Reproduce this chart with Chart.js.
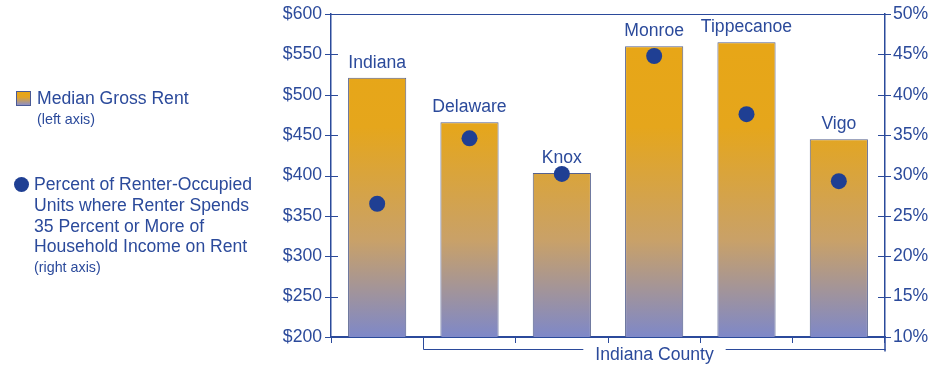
<!DOCTYPE html>
<html>
<head>
<meta charset="utf-8">
<script src="https://cdn.jsdelivr.net/npm/chart.js@4"></script>
<style>
  html, body { margin: 0; padding: 0; background: #fff; }
  #wrap { position: relative; width: 948px; height: 368px; font-family: "Liberation Sans", Arial, Helvetica, sans-serif; color: #2b4a9b; }
  canvas { position: absolute; left: 0; top: 0; }
  .leg { position: absolute; font-size: 17.6px; line-height: 20.8px; white-space: nowrap; }
  .sub { font-size: 14.3px; line-height: 20px; display: block; }
  .sq { position: absolute; left: 16px; top: 91px; width: 13px; height: 13px; border: 1px solid #4a5a95;
        background: linear-gradient(#e8a615 0%, #e3a424 40%, #8d8fc6 100%); }
  .dot { position: absolute; left: 14px; top: 177px; width: 15px; height: 15px; border-radius: 50%; background: #1f3f93; }
</style>
</head>
<body>
<div id="wrap">
  <canvas id="c" width="948" height="368"></canvas>
  <div class="sq"></div>
  <div class="leg" style="left:37px; top:88px;">Median Gross Rent<span class="sub">(left axis)</span></div>
  <div class="dot"></div>
  <div class="leg" style="left:34px; top:174px;">Percent of Renter-Occupied<br>Units where Renter Spends<br>35 Percent or More of<br>Household Income on Rent<span class="sub">(right axis)</span></div>
</div>
<script>
const categories = ["Indiana", "Delaware", "Knox", "Monroe", "Tippecanoe", "Vigo"];
const medianRent = [521, 466, 403, 560, 565, 445];
const pctBurdened = [26.5, 34.6, 30.2, 44.8, 37.6, 29.3];
const leftTicks = [200, 250, 300, 350, 400, 450, 500, 550, 600];
const rightTicks = [10, 15, 20, 25, 30, 35, 40, 45, 50];
const groupLabel = "Indiana County";

const BLUE = "#2b4a9b";
const FONT = '"Liberation Sans", Arial, Helvetica, sans-serif';
const FS = 17.6;

const ctx = document.getElementById("c").getContext("2d");

function barGradient(context) {
  const chart = context.chart;
  const a = chart.chartArea;
  if (!a) return "#e8a615";
  const g = chart.ctx.createLinearGradient(0, a.top, 0, a.bottom);
  g.addColorStop(0, "#e8a615");
  g.addColorStop(0.35, "#e5a61c");
  g.addColorStop(0.7, "#c9a168");
  g.addColorStop(1, "#7e88c8");
  return g;
}

const labelsPlugin = {
  id: "barLabels",
  afterDatasetsDraw(chart) {
    const meta = chart.getDatasetMeta(1);
    const c = chart.ctx;
    c.save();
    c.fillStyle = BLUE;
    c.font = FS + "px " + FONT;
    c.textAlign = "center";
    c.textBaseline = "alphabetic";
    meta.data.forEach((bar, i) => {
      c.fillText(categories[i], bar.x, bar.y - 10);
    });
    c.restore();
  }
};

const framePlugin = {
  id: "frame",
  afterDraw(chart) {
    const a = chart.chartArea;
    const x = chart.scales.x;
    const yL = chart.scales.y;
    const yR = chart.scales.y1;
    const c = chart.ctx;
    c.save();
    c.strokeStyle = BLUE;
    c.lineWidth = 1;
    // top border
    c.beginPath();
    c.moveTo(a.left, a.top + 0.5);
    c.lineTo(a.right, a.top + 0.5);
    c.stroke();
    // crossing tick marks on both value axes
    c.beginPath();
    leftTicks.forEach(v => {
      const py = Math.round(yL.getPixelForValue(v)) + 0.5;
      c.moveTo(a.left - 6, py);
      c.lineTo(v === leftTicks[leftTicks.length - 1] || v === leftTicks[0] ? a.left : a.left + 7, py);
    });
    rightTicks.forEach(v => {
      const py = Math.round(yR.getPixelForValue(v)) + 0.5;
      c.moveTo(v === rightTicks[rightTicks.length - 1] || v === rightTicks[0] ? a.right : a.right - 7, py);
      c.lineTo(a.right + 6, py);
    });
    c.stroke();
    // bracket for county group
    const x0 = Math.round(x.getPixelForValue(0.5)) + 0.5;
    const x1 = Math.round(x.getPixelForValue(5.5)) + 0.5;
    const yb = a.bottom + 12.5;
    const mid = (x0 + x1) / 2;
    c.font = FS + "px " + FONT;
    const tw = c.measureText(groupLabel).width;
    c.beginPath();
    c.moveTo(x0, a.bottom);
    c.lineTo(x0, yb);
    c.lineTo(mid - tw / 2 - 12, yb);
    c.moveTo(mid + tw / 2 + 12, yb);
    c.lineTo(x1, yb);
    c.stroke();
    c.lineWidth = 1.5;
    c.beginPath();
    c.moveTo(a.right, a.bottom);
    c.lineTo(a.right, yb + 2);
    c.stroke();
    c.fillStyle = BLUE;
    c.textAlign = "center";
    c.textBaseline = "middle";
    c.fillText(groupLabel, mid, yb + 6);
    c.restore();
  }
};

function fixVertical(width) {
  return function (s) {
    s.width = width;
    s.paddingTop = 0;
    s.paddingBottom = 0;
  };
}

new Chart(ctx, {
  data: {
    labels: categories,
    datasets: [
      {
        type: "scatter",
        label: "Percent of Renter-Occupied Units",
        data: pctBurdened.map((v, i) => ({ x: categories[i], y: v })),
        yAxisID: "y1",
        xAxisID: "x",
        showLine: false,
        pointRadius: 8,
        pointHoverRadius: 8,
        pointBackgroundColor: "#1f3f93",
        pointBorderWidth: 0,
        order: 0
      },
      {
        type: "bar",
        label: "Median Gross Rent",
        data: medianRent,
        yAxisID: "y",
        backgroundColor: barGradient,
        borderColor: "#56628f",
        borderWidth: 1,
        barPercentage: 0.63,
        categoryPercentage: 1,
        order: 1
      }
    ]
  },
  options: {
    responsive: false,
    animation: false,
    events: [],
    layout: { padding: { left: 0, right: 0, top: 14, bottom: 31 } },
    plugins: { legend: { display: false }, tooltip: { enabled: false } },
    scales: {
      x: {
        type: "category",
        offset: true,
        grid: { offset: true, drawOnChartArea: false, color: BLUE, tickLength: 6, drawTicks: true },
        border: { color: BLUE, width: 2 },
        ticks: { display: false },
        afterFit(s) { s.height = 0; s.paddingLeft = 0; s.paddingRight = 0; }
      },
      y: {
        position: "left",
        min: 200, max: 600,
        afterBuildTicks(s) { s.ticks = leftTicks.map(v => ({ value: v })); },
        ticks: { color: BLUE, font: { family: FONT, size: FS }, padding: 9, callback: v => "$" + v },
        grid: { drawOnChartArea: false, drawTicks: false },
        border: { color: BLUE, width: 1.5 },
        afterFit: fixVertical(331)
      },
      y1: {
        position: "right",
        min: 10, max: 50,
        afterBuildTicks(s) { s.ticks = rightTicks.map(v => ({ value: v })); },
        ticks: { color: BLUE, font: { family: FONT, size: FS }, padding: 8, callback: v => v + "%" },
        grid: { drawOnChartArea: false, drawTicks: false },
        border: { color: BLUE, width: 1.5 },
        afterFit: fixVertical(63)
      }
    }
  },
  plugins: [labelsPlugin, framePlugin]
});
</script>
</body>
</html>
